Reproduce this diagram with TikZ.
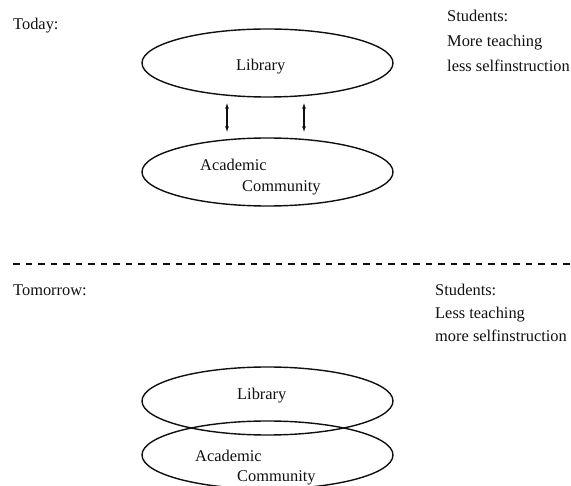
\documentclass[tikz,border=0pt]{standalone}
\usepackage{fontspec}
\setmainfont{Liberation Serif}
\usetikzlibrary{positioning,arrows.meta,shapes.geometric}
\definecolor{ink}{HTML}{101010}

\begin{document}
\begin{tikzpicture}[x=1pt, y=-1pt,
  blob/.style={ellipse, draw=ink, line width=1.4pt, minimum width=251pt, minimum height=68pt, inner sep=0pt},
  txt/.style={anchor=base west, inner sep=0pt, text=ink, font=\fontsize{16.4}{20}\selectfont},
  link/.style={{Latex[length=6pt,width=4pt]}-{Latex[length=6pt,width=4pt]}, line width=1.1pt, draw=ink, shorten <=5pt, shorten >=5pt}]
\useasboundingbox (0,0) rectangle (571,486);
% today
\node[txt] (today) at (13,30) {Today:};
\node[blob] (lib1) at (267.5,63) {};
\node[blob] (acad1) at (267.5,172) {};
\node[txt] (libtxt1) at (236,71) {Library};
\node[txt] (acadtxt1) at (200,171) {Academic};
\node[txt] (commtxt1) at (242,192) {Community};
\draw[link] ([xshift=-40.5pt]lib1.south) -- ([xshift=-40.5pt]acad1.north);
\draw[link] ([xshift=36.5pt]lib1.south) -- ([xshift=36.5pt]acad1.north);
\node[txt] (stud1) at (447,22) {Students:};
\node[txt] (teach1) at (447,47) {More teaching};
\node[txt] (self1) at (447,72) {less selfinstruction};
% separator
\coordinate (sepl) at (13,264);
\coordinate (sepr) at (571,264);
\draw[ink, line width=1.5pt, dash pattern=on 6.5pt off 6pt] (sepl) -- (sepr);
% tomorrow
\node[txt] (tomorrow) at (13,296) {Tomorrow:};
\node[blob] (lib2) at (267.5,401) {};
\node[blob] (acad2) at (267.5,455) {};
\node[txt] (libtxt2) at (237,400) {Library};
\node[txt] (acadtxt2) at (195,462) {Academic};
\node[txt] (commtxt2) at (237,482) {Community};
\node[txt] (stud2) at (435,296) {Students:};
\node[txt] (teach2) at (435,319) {Less teaching};
\node[txt] (self2) at (435,342) {more selfinstruction};
\end{tikzpicture}
\end{document}
